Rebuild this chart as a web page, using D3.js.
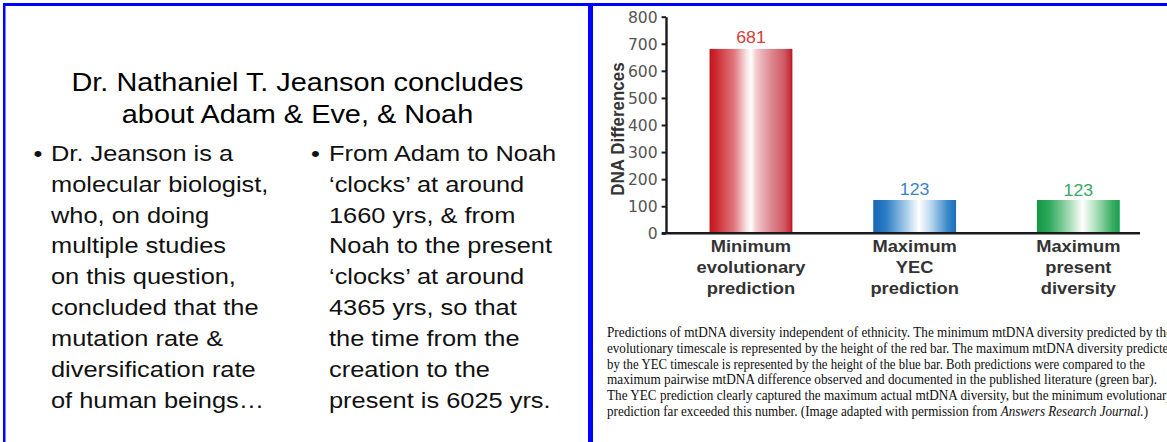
<!DOCTYPE html>
<html>
<head>
<meta charset="utf-8">
<script src="https://cdn.jsdelivr.net/npm/d3@7"></script>
<style>
  html, body { margin: 0; padding: 0; background: #fff; overflow: hidden; }
  svg { display: block; }
</style>
</head>
<body>
<svg id="chart" width="1167" height="442"></svg>
<script>
// ---------- data ----------
const categories = ["Minimum evolutionary prediction", "Maximum YEC prediction", "Maximum present diversity"];
const categoryLines = [["Minimum", "evolutionary", "prediction"], ["Maximum", "YEC", "prediction"], ["Maximum", "present", "diversity"]];
const values = [681, 123, 123];
const valueLabels = ["681", "123", "123"];
const yTicks = [0, 100, 200, 300, 400, 500, 600, 700, 800];
const yLabel = "DNA Differences";
const titleLines = ["Dr. Nathaniel T. Jeanson concludes", "about Adam & Eve, & Noah"];
const bulletLeft = ["Dr. Jeanson is a", "molecular biologist,", "who, on doing", "multiple studies", "on this question,", "concluded that the", "mutation rate &", "diversification rate", "of human beings…"];
const bulletRight = ["From Adam to Noah", "‘clocks’ at around", "1660 yrs, & from", "Noah to the present", "‘clocks’ at around", "4365 yrs, so that", "the time from the", "creation to the", "present is 6025 yrs."];
const captionLines = [
  "Predictions of mtDNA diversity independent of ethnicity. The minimum mtDNA diversity predicted by the",
  "evolutionary timescale is represented by the height of the red bar. The maximum mtDNA diversity predicted",
  "by  the YEC timescale is represented by the height of the blue bar. Both predictions were compared to the",
  "maximum pairwise mtDNA difference observed and documented in the published literature (green bar).",
  "The YEC prediction clearly captured the maximum actual mtDNA diversity, but the minimum evolutionary",
  "prediction far exceeded this number.   (Image adapted with permission from "
];
const captionItalic = "Answers Research Journal.";
const captionTail = ")";

// ---------- styles ----------
const captionWidths = [565, 568, 538, 550, 566, 541];
const leftSX = 1.155;   // horizontal stretch of the slide text
const chartSX = 1.11;   // horizontal stretch of the chart text
const gradients = [
  { id: "gRed", stops: [[0, "#c2141b"], [0.08, "#cc2a30"], [0.3, "#e07a80"], [0.44, "#f8dfe0"], [0.5, "#ffffff"], [0.56, "#f3cdd0"], [0.72, "#df9098"], [0.9, "#d05a64"], [0.97, "#c6303a"], [1, "#b81419"]] },
  { id: "gBlue", stops: [[0, "#1466b6"], [0.15, "#2a7cc4"], [0.4, "#a8cdea"], [0.55, "#ffffff"], [0.7, "#b8d6ee"], [0.9, "#3a88ca"], [1, "#186eba"]] },
  { id: "gGreen", stops: [[0, "#139848"], [0.15, "#2ea95c"], [0.4, "#a8ddb8"], [0.55, "#ffffff"], [0.7, "#b2e2c0"], [0.9, "#40b068"], [1, "#169e4e"]] }
];
const labelColors = ["#d4403c", "#3a86c4", "#38a866"];

const svg = d3.select("#chart");

// ---------- frame lines ----------
svg.append("rect").attr("x", 3).attr("y", 3).attr("width", 1164).attr("height", 3).attr("fill", "#0000ff");
svg.append("rect").attr("x", 3).attr("y", 3).attr("width", 2.5).attr("height", 439).attr("fill", "#0000ff");
svg.append("rect").attr("x", 588).attr("y", 3).attr("width", 5).attr("height", 439).attr("fill", "#0000ff");

// ---------- left panel text ----------
const left = svg.append("g").attr("font-family", "Liberation Sans, Arial, sans-serif").attr("fill", "#000");
left.selectAll("text.title").data(titleLines).join("text")
  .attr("class", "title")
  .attr("transform", (d, i) => `translate(297.5,${90.5 + i * 32}) scale(${leftSX},1)`)
  .attr("text-anchor", "middle").attr("font-size", 25)
  .text(d => d);

function bulletCol(lines, bx, tx) {
  left.append("text").attr("transform", `translate(${bx},160.7) scale(${leftSX},1)`)
    .attr("font-size", 22).attr("fill", "#111").text("•");
  left.selectAll(null).data(lines).join("text")
    .attr("transform", (d, i) => `translate(${tx},${160.7 + i * 30.9}) scale(${leftSX},1)`)
    .attr("font-size", 22).attr("fill", "#111")
    .text(d => d);
}
bulletCol(bulletLeft, 33.5, 51);
bulletCol(bulletRight, 311, 329);

// ---------- chart ----------
const defs = svg.append("defs");
gradients.forEach(g => {
  const lg = defs.append("linearGradient").attr("id", g.id).attr("x1", "0%").attr("x2", "100%").attr("y1", "0%").attr("y2", "0%");
  g.stops.forEach(s => lg.append("stop").attr("offset", s[0]).attr("stop-color", s[1]));
});

const y = d3.scaleLinear().domain([0, 800]).range([233.3, 16.7]);
const x = d3.scaleBand().domain(categories).range([666, 1163.3]).paddingInner(0.494).paddingOuter(0.266);

const chart = svg.append("g");

chart.selectAll("rect.bar").data(values).join("rect")
  .attr("class", "bar")
  .attr("x", (d, i) => x(categories[i]))
  .attr("width", x.bandwidth())
  .attr("y", d => y(d))
  .attr("height", d => y(0) - y(d))
  .attr("fill", (d, i) => `url(#${gradients[i].id})`);

const valOffsets = [6, 5, 3.5];
chart.selectAll("text.val").data(values).join("text")
  .attr("class", "val")
  .attr("transform", (d, i) => `translate(${x(categories[i]) + x.bandwidth() / 2},${y(d) - valOffsets[i]}) scale(${chartSX},1)`)
  .attr("text-anchor", "middle")
  .attr("font-family", "Liberation Sans, Arial, sans-serif")
  .attr("font-size", 16)
  .attr("fill", (d, i) => labelColors[i])
  .text((d, i) => valueLabels[i]);

// y axis
const yAxis = d3.axisLeft(y).tickValues(yTicks).tickSize(4.4).tickPadding(3.6).tickSizeOuter(0);
const yg = chart.append("g").attr("transform", "translate(666,0)").call(yAxis);
yg.select(".domain").attr("stroke", "#1a1a1a").attr("stroke-width", 2.4);
yg.selectAll(".tick line").attr("stroke", "#1a1a1a").attr("stroke-width", 2);
yg.selectAll(".tick text")
  .attr("font-family", "Liberation Sans Narrow, Arial Narrow, DejaVu Sans Condensed, sans-serif")
  .attr("font-size", 16.5).attr("fill", "#555").attr("dy", "0.34em")
  .attr("transform", "scale(1.05,1)");

// x axis line
const xAxis = d3.axisBottom(x).tickSize(0).tickFormat("");
const xg = chart.append("g").attr("transform", "translate(0,233.3)").call(xAxis);
xg.select(".domain").attr("d", "M661.8,0H1140").attr("stroke", "#1a1a1a").attr("stroke-width", 2.4);

// category labels
chart.selectAll("g.cat").data(categories).join("g")
  .attr("class", "cat")
  .each(function (c, i) {
    d3.select(this).selectAll("text").data(categoryLines[i]).join("text")
      .attr("transform", (d, j) => `translate(${x(c) + x.bandwidth() / 2},${252.3 + j * 20.7}) scale(${chartSX},1)`)
      .attr("text-anchor", "middle")
      .attr("font-family", "Liberation Sans, Arial, sans-serif")
      .attr("font-weight", "bold").attr("font-size", 16.5).attr("fill", "#333")
      .text(d => d);
  });

// y label
chart.append("text")
  .attr("transform", "translate(623.5,129) rotate(-90) scale(1,1.1)")
  .attr("text-anchor", "middle")
  .attr("font-family", "Liberation Sans, Arial, sans-serif")
  .attr("font-weight", "bold").attr("font-size", 17).attr("fill", "#333")
  .text(yLabel);

// caption
const cap = svg.append("g").attr("font-family", "Liberation Serif, Times New Roman, serif").attr("font-size", 14).attr("fill", "#0d0d0d");
captionLines.forEach((line, i) => {
  const t = cap.append("text").attr("x", 607).attr("y", 337 + i * 15.8)
    .attr("textLength", captionWidths[i]).attr("lengthAdjust", "spacingAndGlyphs");
  if (i < captionLines.length - 1) {
    t.text(line);
  } else {
    t.append("tspan").text(line);
    t.append("tspan").attr("font-style", "italic").text(captionItalic);
    t.append("tspan").text(captionTail);
  }
});
</script>
</body>
</html>
